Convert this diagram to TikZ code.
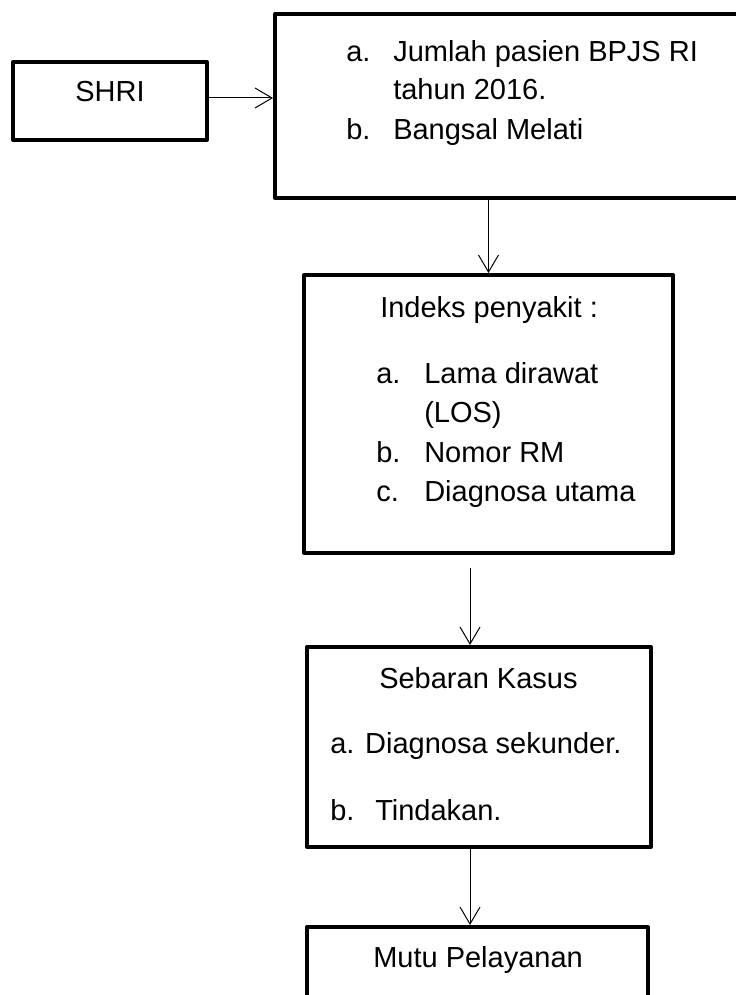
\documentclass[tikz,border=0pt]{standalone}
\usepackage{fontspec}
\setmainfont{Liberation Sans}
\usetikzlibrary{arrows.meta}
\tikzset{
  box/.style={draw, line width=3pt, line join=round, inner sep=0pt, rectangle},
  txt/.style={inner sep=0pt, anchor=base west, font=\fontsize{21.75pt}{29pt}\selectfont},
  ctxt/.style={inner sep=0pt, anchor=base, font=\fontsize{21.75pt}{29pt}\selectfont},
  arr/.style={line width=0.75pt, -{Straight Barb[length=12.75pt, width=15pt, line width=0.75pt]}}
}
\begin{document}
\begin{tikzpicture}[x=0.75pt, y=-0.75pt]
\useasboundingbox (0,0) rectangle (735,995);
% boxes
\node[box, minimum width=145.5pt, minimum height=58.5pt] (shri) at (110,101) {};
\node[box, minimum width=352.5pt, minimum height=138pt] (top) at (510,106) {};
\node[box, minimum width=276.75pt, minimum height=208.5pt] (idx) at (488.5,414) {};
\node[box, minimum width=258pt, minimum height=150pt] (seb) at (479,747) {};
\node[box, minimum width=255.75pt, minimum height=62.25pt] (mutu) at (477.5,968.5) {};
% texts
\node[ctxt] (tshri) at (110,102) {SHRI};
\node[txt] (ta) at (346,62) {a.};
\node[txt] (ta1) at (393,62) {Jumlah pasien BPJS RI};
\node[txt] (ta2) at (393,100) {tahun 2016.};
\node[txt] (tb) at (346,140) {b.};
\node[txt] (tb1) at (393,140) {Bangsal Melati};
\node[txt] (ih) at (380,317) {Indeks penyakit :};
\node[txt] (ia) at (376,383) {a.};
\node[txt] (ia1) at (424,383) {Lama dirawat};
\node[txt] (ia2) at (424,422) {(LOS)};
\node[txt] (ib) at (376,462) {b.};
\node[txt] (ib1) at (424,462) {Nomor RM};
\node[txt] (ic) at (376,501) {c.};
\node[txt] (ic1) at (424,501) {Diagnosa utama};
\node[txt] (sh) at (379,688) {Sebaran Kasus};
\node[txt] (sa) at (330,753) {a. Diagnosa sekunder.};
\node[txt] (sb) at (330,820) {b.};
\node[txt] (sb1) at (375,820) {Tindakan.};
\node[txt] (mh) at (373,967) {Mutu Pelayanan};
% connectors
\coordinate (c1) at (207,98);
\draw[arr] (c1) -- (c1 -| top.west);
\draw[arr] (idx.north |- top.south) -- (idx.north);
\coordinate (c3) at (470,568);
\draw[arr] (c3) -- (c3 |- seb.north);
\coordinate (c4) at (470,847);
\draw[arr] (c4 |- seb.south) -- (c4 |- mutu.north);
\end{tikzpicture}
\end{document}
